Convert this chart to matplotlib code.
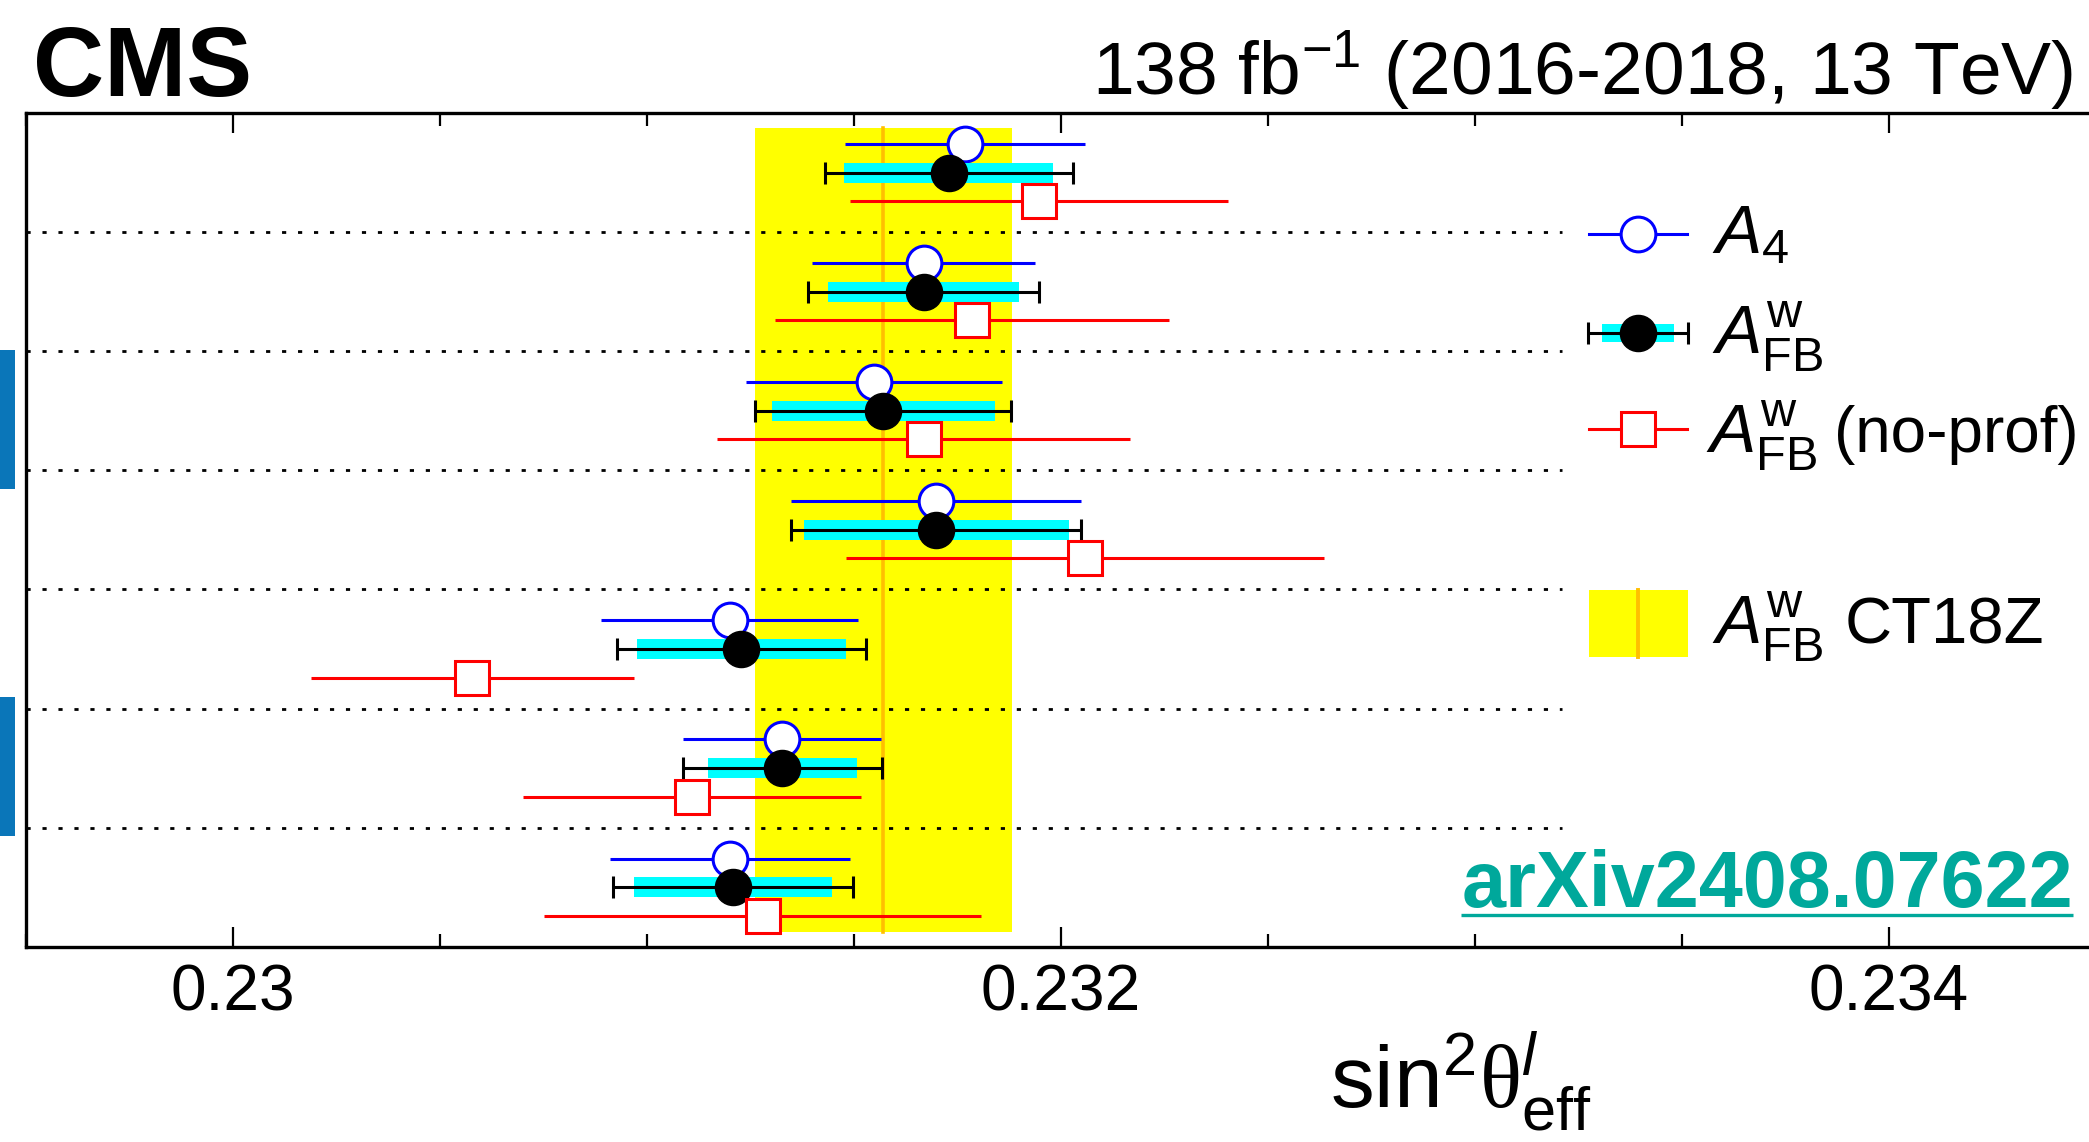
import numpy as np
import matplotlib
matplotlib.use("Agg")
import matplotlib.pyplot as plt
from matplotlib.patches import Rectangle

plt.rcParams['font.family'] = ['Liberation Sans', 'DejaVu Sans']
plt.rcParams['mathtext.fontset'] = 'custom'
plt.rcParams['mathtext.rm'] = 'Liberation Sans'
plt.rcParams['mathtext.it'] = 'Liberation Sans:italic'
plt.rcParams['mathtext.bf'] = 'Liberation Sans:bold'
plt.rcParams['mathtext.sf'] = 'Liberation Serif'
plt.rcParams['lines.scale_dashes'] = False

# measurements per row, top row first
a4_val = [0.231768, 0.231668, 0.231548, 0.231698, 0.231200, 0.231327, 0.231200]
a4_err = [0.000290, 0.000270, 0.000310, 0.000350, 0.000310, 0.000239, 0.000290]

afb_val = [0.231729, 0.231668, 0.231571, 0.231699, 0.231228, 0.231327, 0.231208]
afb_tot = [0.000299, 0.000280, 0.000309, 0.000350, 0.000301, 0.000241, 0.000290]
afb_stat = [0.000252, 0.000231, 0.000270, 0.000320, 0.000252, 0.000180, 0.000240]

noprof_val = [0.231947, 0.231785, 0.231668, 0.232058, 0.230578, 0.231109, 0.231279]
noprof_err = [0.000457, 0.000477, 0.000498, 0.000578, 0.000390, 0.000409, 0.000528]

# CT18Z reference band
ct18z_val = 0.231571
ct18z_err = 0.000310

xtick_vals = [0.230, 0.232, 0.234]
xtick_labels = ['0.23', '0.232', '0.234']

BLUE = '#0000ff'
RED = '#ff0000'
CYAN = '#00ffff'
YELLOW = '#ffff00'
ORANGE = '#ffbf00'
TEAL = '#00a89b'

W, H = 2089, 1142
fig = plt.figure(figsize=(W / 100, H / 100), dpi=100)

# main axes (right edge runs slightly past the picture, as in the original)
x0, x1, ytop, ybot = 26, 2096, 113, 946.7
ax = fig.add_axes([x0 / W, 1 - ybot / H, (x1 - x0) / W, (ybot - ytop) / H])

n = len(a4_val)
yc = np.arange(n)[::-1] + 0.5
off = 0.24

# yellow band + central line
ax.add_patch(Rectangle((ct18z_val - ct18z_err, 0.125), 2 * ct18z_err, n - 0.25,
                       facecolor=YELLOW, edgecolor='none', zorder=1))
ax.plot([ct18z_val, ct18z_val], [0.125, n - 0.125], color=ORANGE, lw=2.6, zorder=1.5)

# separators
ax.hlines(np.arange(1, n), 0.2295, 0.23321, colors='k', lw=2.0,
          linestyles=[(0, (3.0, 8.5))], zorder=2)

# A4
ax.errorbar(a4_val, yc + off, xerr=a4_err, fmt='o', color=BLUE, mfc='white', mec=BLUE,
            ms=25, mew=2.2, elinewidth=2.2, capsize=0, zorder=3)

# AFB: stat box + total error
stat = np.array(afb_stat)
ax.barh(yc, 2 * stat, left=np.array(afb_val) - stat, height=0.168, color=CYAN, zorder=4)
ax.errorbar(afb_val, yc, xerr=afb_tot, fmt='o', color='k', ms=26, elinewidth=2.2,
            capsize=7.8, capthick=2.2, zorder=5)

# AFB no-prof
ax.errorbar(noprof_val, yc - off, xerr=noprof_err, fmt='s', color=RED, mfc='white', mec=RED,
            ms=24, mew=2.2, elinewidth=2.2, capsize=0, zorder=6)

ax.set_xlim(0.2295, 0.2345)
ax.set_ylim(0, n)
ax.set_yticks([])
ax.set_xticks(xtick_vals)
ax.set_xticklabels(xtick_labels, fontsize=46)
ax.set_xticks(np.arange(0.2295, 0.2346, 0.0005), minor=True)
ax.tick_params(axis='x', which='both', direction='in', top=True, bottom=True, width=1.6, pad=12)
ax.tick_params(axis='x', which='major', length=14.5)
ax.tick_params(axis='x', which='minor', length=9.5)
for s in ax.spines.values():
    s.set_linewidth(2.4)

# overlay in pixel coordinates for texts / legend
ov = fig.add_axes([0, 0, 1, 1], facecolor='none')
ov.set_xlim(0, W)
ov.set_ylim(H, 0)
ov.axis('off')

ov.text(33, 96, 'CMS', fontsize=71, fontweight='bold', va='baseline', ha='left')
ov.text(2073, 95, r'138 fb$^{-1}$ (2016-2018, 13 TeV)', fontsize=54, va='baseline', ha='right')

ov.text(1461, 1108, r'$\mathrm{sin}^{2}\mathsf{\theta}^{l}_{\mathrm{eff}}$', fontsize=63,
        va='baseline', ha='center')

arx = ov.text(2073, 907, 'arXiv2408.07622', fontsize=57, fontweight='bold', color=TEAL,
              va='baseline', ha='right')
fig.canvas.draw()
bb = arx.get_window_extent(fig.canvas.get_renderer())
ov.plot([bb.x0, bb.x1], [915, 915], color=TEAL, lw=2.4, solid_capstyle='butt')

# side markers
for ytb in [(350, 489), (697, 836)]:
    ov.add_patch(Rectangle((0, ytb[0]), 15, ytb[1] - ytb[0], facecolor='#0a76b9', edgecolor='none'))

# legend
lx0, lx1, lxc = 1589, 1687, 1638
ov.plot([lx0, lx1], [234, 234], color=BLUE, lw=2.2)
ov.plot([lxc], [234], 'o', mfc='white', mec=BLUE, ms=25, mew=2.2)

ov.add_patch(Rectangle((1602, 324), 72, 18, facecolor=CYAN, edgecolor='none'))
ov.errorbar([lxc], [333], xerr=[50], fmt='o', color='k', ms=26, elinewidth=2.2,
            capsize=7.8, capthick=2.2)

ov.plot([lx0, lx1], [429, 429], color=RED, lw=2.2)
ov.plot([lxc], [429], 's', mfc='white', mec=RED, ms=24, mew=2.2)

ov.add_patch(Rectangle((lx0, 590), 99, 67, facecolor=YELLOW, edgecolor='none'))
ov.plot([lxc, lxc], [590, 657], color=ORANGE, lw=2.8)

ov.text(1712, 253, r'$A_{4}$', fontsize=50, va='baseline')
ov.text(1712, 353, r'$A^{\mathrm{w}}_{\mathrm{FB}}$', fontsize=50, va='baseline')
ov.text(1706, 452, r'$A^{\mathrm{w}}_{\mathrm{FB}}$', fontsize=50, va='baseline')
ov.text(1834, 452, '(no-prof)', fontsize=46, va='baseline')
ov.text(1712, 643, r'$A^{\mathrm{w}}_{\mathrm{FB}}$', fontsize=50, va='baseline')
ov.text(1845, 643, 'CT18Z', fontsize=47, va='baseline')

fig.savefig('out.png', dpi=100)
